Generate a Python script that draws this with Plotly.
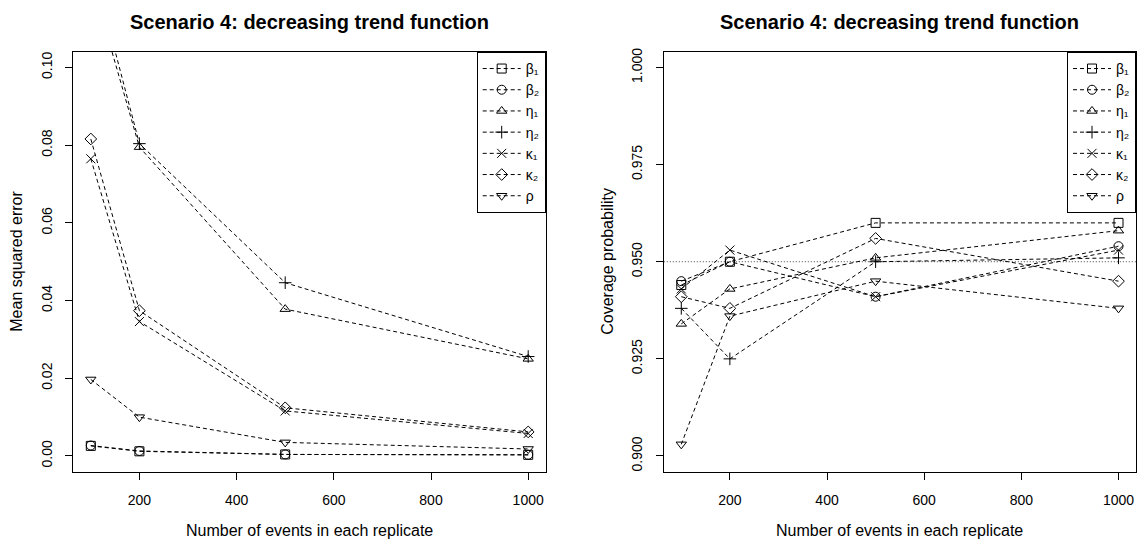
import plotly.graph_objects as go

# ---------------- data ----------------
n_events = [100, 200, 500, 1000]
param_labels = ["β₁", "β₂", "η₁", "η₂", "κ₁", "κ₂", "ρ"]
x_ticks = [200, 400, 600, 800, 1000]
mse_ticks = [0.00, 0.02, 0.04, 0.06, 0.08, 0.10]
cov_ticks = [0.900, 0.925, 0.950, 0.975, 1.000]
nominal_coverage = 0.95

# Mean squared error (left panel)
mse_beta1 = [0.0026, 0.0012, 0.0004, 0.0003]
mse_beta2 = [0.0027, 0.0013, 0.0004, 0.0003]
mse_eta1 = [0.123, 0.0795, 0.0378, 0.0250]
mse_eta2 = [0.128, 0.0804, 0.0446, 0.0256]
mse_kappa1 = [0.0765, 0.0346, 0.0116, 0.0058]
mse_kappa2 = [0.0816, 0.0374, 0.0124, 0.0062]
mse_rho = [0.0197, 0.0100, 0.0035, 0.0018]

# Coverage probability (right panel)
cov_beta1 = [0.944, 0.950, 0.960, 0.960]
cov_beta2 = [0.945, 0.950, 0.941, 0.954]
cov_eta1 = [0.934, 0.943, 0.951, 0.958]
cov_eta2 = [0.938, 0.925, 0.950, 0.951]
cov_kappa1 = [0.943, 0.953, 0.941, 0.953]
cov_kappa2 = [0.941, 0.938, 0.956, 0.945]
cov_rho = [0.903, 0.936, 0.945, 0.938]

mse_series = [mse_beta1, mse_beta2, mse_eta1, mse_eta2, mse_kappa1, mse_kappa2, mse_rho]
cov_series = [cov_beta1, cov_beta2, cov_eta1, cov_eta2, cov_kappa1, cov_kappa2, cov_rho]

# ---------------- style ----------------
symbols = ["square-open", "circle-open", "triangle-up-open", "cross-thin-open",
           "x-thin-open", "diamond-open", "triangle-down-open"]
FONT = "Liberation Sans, Arial, Helvetica, sans-serif"
W, H = 1138, 543

def px_x(p):
    return p / W

def px_y(p):
    return 1 - p / H

fig = go.Figure()

for lab, sym, ys in zip(param_labels, symbols, mse_series):
    fig.add_trace(go.Scatter(
        x=n_events, y=ys, name=lab, mode="lines+markers",
        line=dict(color="black", width=1, dash="4px,3px"),
        marker=dict(symbol=sym, size=9, color="black", line=dict(color="black", width=1)),
        xaxis="x", yaxis="y", legend="legend",
    ))

for lab, sym, ys in zip(param_labels, symbols, cov_series):
    fig.add_trace(go.Scatter(
        x=n_events, y=ys, name=lab, mode="lines+markers",
        line=dict(color="black", width=1, dash="4px,3px"),
        marker=dict(symbol=sym, size=9, color="black", line=dict(color="black", width=1)),
        xaxis="x2", yaxis="y2", legend="legend2",
    ))

# reference line at nominal coverage
fig.add_shape(type="line", xref="x2 domain", yref="y2", x0=0, x1=1,
              y0=nominal_coverage, y1=nominal_coverage,
              line=dict(color="#444444", width=1, dash="1px,2px"), layer="below")

left_dom = [px_x(73.3), px_x(545.7)]
right_dom = [px_x(663.8), px_x(1136.0)]
y_dom = [px_y(471.0), px_y(48.3)]

axis_common = dict(
    showgrid=False, zeroline=False, showline=True, mirror=True,
    linecolor="black", linewidth=1, ticks="outside", ticklen=7,
    tickcolor="black", tickwidth=1,
    tickfont=dict(family=FONT, size=14, color="black"),
)

legend_common = dict(
    xanchor="right", yanchor="top",
    bordercolor="black", borderwidth=1, bgcolor="white",
    font=dict(family=FONT, size=14, color="black"),
    tracegroupgap=0, itemwidth=38,
)

fig.update_layout(
    width=W, height=H,
    margin=dict(l=0, r=0, t=0, b=0),
    paper_bgcolor="white", plot_bgcolor="white",
    font=dict(family=FONT, color="black"),
    xaxis=dict(domain=left_dom, range=[64, 1036], tickvals=x_ticks,
               anchor="y", ticklabelstandoff=9, **axis_common),
    yaxis=dict(domain=y_dom, range=[-0.004, 0.104], tickvals=mse_ticks,
               tickformat=".2f", tickangle=-90, anchor="x",
               ticklabelstandoff=8, **axis_common),
    xaxis2=dict(domain=right_dom, range=[64, 1036], tickvals=x_ticks,
                anchor="y2", ticklabelstandoff=9, **axis_common),
    yaxis2=dict(domain=y_dom, range=[0.896, 1.004], tickvals=cov_ticks,
                tickformat=".3f", tickangle=-90, anchor="x2",
                ticklabelstandoff=8, **axis_common),
    legend=dict(x=left_dom[1], y=y_dom[1], **legend_common),
    legend2=dict(x=right_dom[1], y=y_dom[1], **legend_common),
    showlegend=True,
)

title_text = "<b>Scenario 4: decreasing trend function</b>"
xlab = "Number of events in each replicate"
left_c = (left_dom[0] + left_dom[1]) / 2
right_c = (right_dom[0] + right_dom[1]) / 2
y_mid = (y_dom[0] + y_dom[1]) / 2

annots = [
    dict(text=title_text, x=left_c, y=px_y(18), font=dict(size=20)),
    dict(text=title_text, x=right_c, y=px_y(18), font=dict(size=20)),
    dict(text=xlab, x=left_c, y=px_y(530), font=dict(size=16)),
    dict(text=xlab, x=right_c, y=px_y(530), font=dict(size=16)),
    dict(text="Mean squared error", x=px_x(17), y=y_mid, textangle=-90, font=dict(size=16)),
    dict(text="Coverage probability", x=px_x(608), y=y_mid, textangle=-90, font=dict(size=16)),
]
for a in annots:
    f = dict(family=FONT, color="black")
    f.update(a.pop("font"))
    fig.add_annotation(xref="paper", yref="paper", xanchor="center", yanchor="middle",
                       showarrow=False, font=f, **a)

fig.write_html("out.html")
